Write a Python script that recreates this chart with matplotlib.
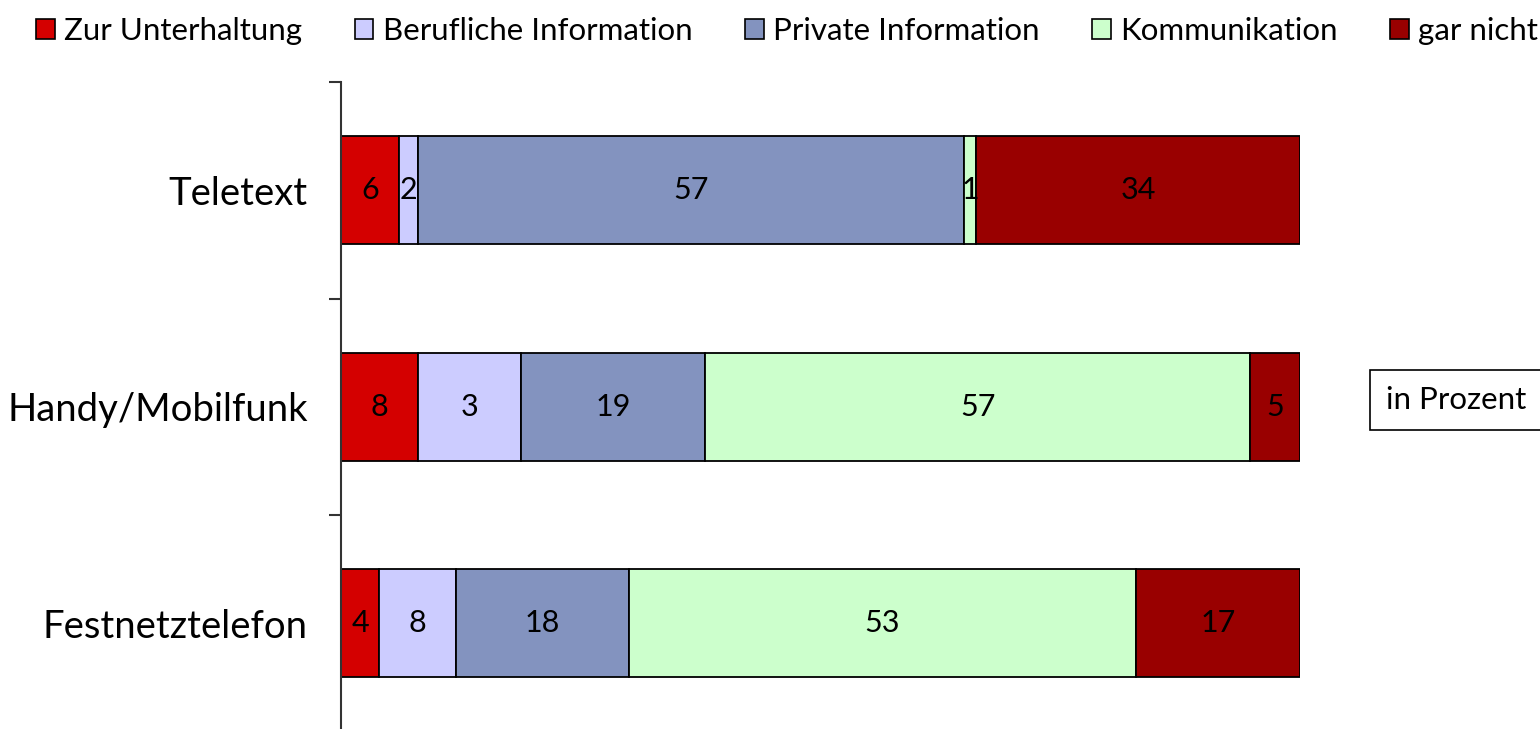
import numpy as np
import matplotlib
matplotlib.use("Agg")
import matplotlib.pyplot as plt
from matplotlib.patches import Patch

plt.rcParams['font.family'] = ['Lato', 'DejaVu Sans']

categories = ["Teletext", "Handy/Mobilfunk", "Festnetztelefon"]
series = ["Zur Unterhaltung", "Berufliche Information", "Private Information",
          "Kommunikation", "gar nicht"]
colors = ["#d40000", "#ccccff", "#8393bf", "#ccffcc", "#990000"]

# segment widths (share of bar) as drawn
widths = np.array([
    [6, 2, 57, 1.2, 33.8],
    [8, 10.8, 19.2, 56.8, 5.2],
    [4, 8, 18, 52.9, 17.1],
])
# printed labels
labels = [
    ["6", "2", "57", "1", "34"],
    ["8", "3", "19", "57", "5"],
    ["4", "8", "18", "53", "17"],
]

fig = plt.figure(figsize=(15.4, 7.29), dpi=100)
ax = fig.add_axes([341 / 1540, -2.5 / 729, 959 / 1540, 649.5 / 729])

y = np.arange(len(categories))
left = np.zeros(len(categories))
for j, name in enumerate(series):
    w = widths[:, j]
    ax.barh(y, w, left=left, height=0.5, color=colors[j],
            edgecolor="black", linewidth=1.3, label=name)
    for i in range(len(categories)):
        ax.text(left[i] + w[i] / 2, y[i], labels[i][j], ha="center", va="center",
                fontsize=22, color="black")
    left += w

ax.set_xlim(0, 100)
ax.set_ylim(2.5, -0.5)
ax.set_yticks(y)
ax.set_yticklabels(categories, fontsize=27.5)
ax.set_yticks([-0.5, 0.5, 1.5, 2.5], minor=True)
ax.tick_params(axis="y", which="major", length=0, pad=24)
ax.tick_params(axis="y", which="minor", length=9, width=1.5, color="#333333")
ax.set_xticks([])
for s in ["top", "right", "bottom"]:
    ax.spines[s].set_visible(False)
ax.spines["left"].set_linewidth(1.5)
ax.spines["left"].set_color("#333333")

handles = [Patch(facecolor=c, edgecolor="black", linewidth=1.2) for c in colors]
fig.legend(handles, series, loc="upper center", bbox_to_anchor=(0.511, 1.015),
           ncol=5, frameon=False, fontsize=22.5, handlelength=0.6, handleheight=0.6,
           handletextpad=0.3, columnspacing=1.68)

fig.text(1386 / 1540, 1 - 400 / 729, "in Prozent", fontsize=22.5, ha="left", va="center",
         bbox=dict(boxstyle="square,pad=0.5", facecolor="white", edgecolor="black",
                   linewidth=1.2))

fig.savefig("out.png", dpi=100)
